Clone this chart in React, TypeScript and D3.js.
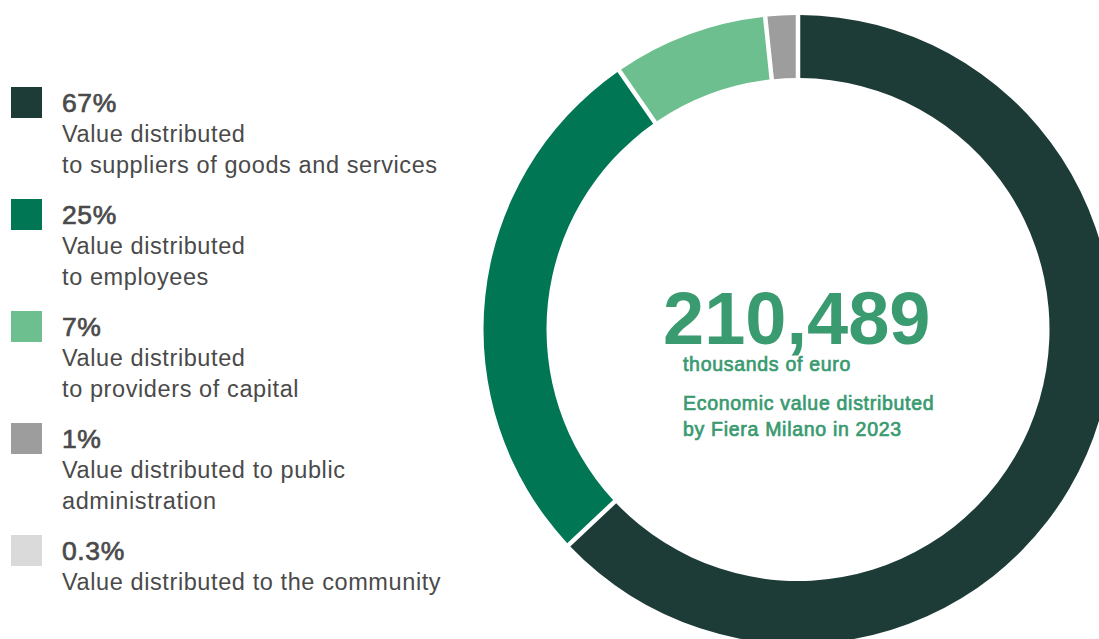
import React from "react";
import * as d3 from "d3";

const percentLabels = ["67%", "25%", "7%", "1%", "0.3%"];
const descLines = [
  ["Value distributed", "to suppliers of goods and services"],
  ["Value distributed", "to employees"],
  ["Value distributed", "to providers of capital"],
  ["Value distributed to public", "administration"],
  ["Value distributed to the community"],
];
const colors = ["#1e3c37", "#007655", "#6ebf8f", "#9d9d9d", "#dadada"];
// arc shares as drawn in the picture (the 0.3% slice is not visible)
const arcShares = [63.35, 27.4, 7.8, 1.45];
const totalValue = "210,489";
const unitLabel = "thousands of euro";
const captionLines = ["Economic value distributed", "by Fiera Milano in 2023"];

const W = 1099;
const H = 639;
const cx = 798;
const cy = 329.5;
const outerR = 314.5;
const innerR = 251.5;

export default function App() {
  const pie = d3
    .pie<number>()
    .sort(null)
    .value((d) => d)
    .startAngle(0)
    .endAngle(2 * Math.PI)
    .padAngle(4.5 / outerR);
  const arcs = pie(arcShares);
  const arc = d3
    .arc<d3.PieArcDatum<number>>()
    .innerRadius(innerR)
    .outerRadius(outerR)
    .padRadius(outerR);

  const font = "'Liberation Sans', Arial, Helvetica, sans-serif";
  const groupY = (i: number) => 111.5 + i * 112;
  const grey = "#4a4a4a";
  const green = "#3a9a70";

  return (
    <div style={{ position: "absolute", left: 0, top: 0 }}>
      <svg width={W} height={H} style={{ display: "block", background: "#fff" }} fontFamily={font}>
        <g transform={`translate(${cx},${cy})`}>
          {arcs.map((a, i) => (
            <path key={i} d={arc(a) || ""} fill={colors[i]} />
          ))}
        </g>
        {percentLabels.map((p, i) => {
          const y0 = groupY(i);
          return (
            <g key={i}>
              <rect x={11} y={y0 - 24.5} width={31} height={31} fill={colors[i]} />
              <text
                x={62}
                y={y0}
                fontSize={26.5}
                fill={grey}
                stroke={grey}
                strokeWidth={0.7}
                letterSpacing={0.6}
              >
                {p}
              </text>
              {descLines[i].map((l, j) => (
                <text
                  key={j}
                  x={62}
                  y={y0 + 30 + j * 31}
                  fontSize={23.5}
                  fill={grey}
                  letterSpacing={0.6}
                >
                  {l}
                </text>
              ))}
            </g>
          );
        })}
        <text x={663} y={344} fontSize={74} fontWeight={700} fill={green}>
          {totalValue}
        </text>
        <text
          x={683}
          y={371}
          fontSize={19.5}
          fill={green}
          stroke={green}
          strokeWidth={0.7}
          letterSpacing={0.7}
        >
          {unitLabel}
        </text>
        {captionLines.map((l, j) => (
          <text
            key={j}
            x={683}
            y={410 + j * 26}
            fontSize={19.5}
            fill={green}
            stroke={green}
            strokeWidth={0.7}
            letterSpacing={0.7}
          >
            {l}
          </text>
        ))}
      </svg>
    </div>
  );
}
